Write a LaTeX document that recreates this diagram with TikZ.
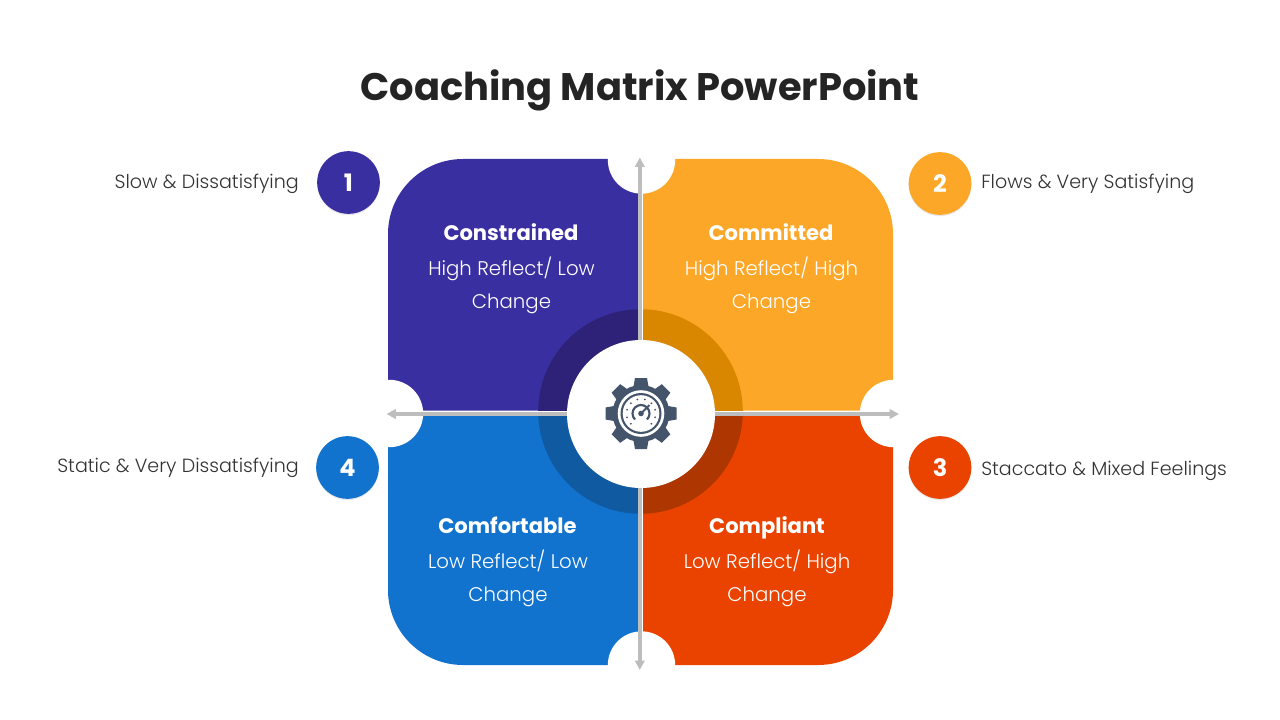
\documentclass[tikz,border=0pt]{standalone}
\usepackage{fontspec}
\setmainfont{Poppins}
\newfontfamily\lightfont{Poppins Light}
\usetikzlibrary{arrows.meta,shadows}
\definecolor{cPurple}{HTML}{3A2FA1}
\definecolor{cOrange}{HTML}{FCA727}
\definecolor{cRed}{HTML}{EA4300}
\definecolor{cBlue}{HTML}{1273CE}
\definecolor{cPurpleD}{HTML}{2E2278}
\definecolor{cOrangeD}{HTML}{D98600}
\definecolor{cRedD}{HTML}{AE3600}
\definecolor{cBlueD}{HTML}{0F5AA0}
\definecolor{cGear}{HTML}{44546A}
\definecolor{cAxis}{HTML}{BDBDBD}
\begin{document}
\begin{tikzpicture}[x=0.75pt,y=-0.75pt]
\tikzset{title/.style = {font=\fontsize{28.8}{34}\selectfont\bfseries,text=black!86}}
\tikzset{head/.style = {font=\fontsize{15.8}{20}\selectfont\bfseries,text=white,text height=11.5pt,text depth=0pt}}
\tikzset{body/.style = {font=\lightfont\fontsize{14.8}{24.75}\selectfont,text=white,align=center}}
\tikzset{side/.style = {font=\lightfont\fontsize{14.3}{18}\selectfont,text=black!80}}
\tikzset{bubble/.style = {shape=circle,fill=#1,text=white,minimum size=47pt,inner sep=0pt,font=\fontsize{18}{22}\selectfont\bfseries,drop shadow={opacity=0.18,shadow xshift=0pt,shadow yshift=-1pt}}}
\tikzset{notch/.style = {shape=circle,fill=white,minimum size=50.5pt,inner sep=0pt}}
\tikzset{axis/.style = {draw=cAxis,line width=2.6pt,{Triangle[length=7pt,width=7pt]}-{Triangle[length=7pt,width=7pt]}}}
\tikzset{gap/.style = {draw=white,line width=3.9pt}}
\useasboundingbox (0,0) rectangle (1280,720);
% quadrants
\fill[cPurple] (638,159) -- (638,410.5) -- (388,410.5) -- (388,234) arc[start angle=180,end angle=270,radius=75] -- cycle;
\fill[cOrange] (893,410.5) -- (643,410.5) -- (643,159) -- (818,159) arc[start angle=270,end angle=360,radius=75] -- cycle;
\fill[cRed] (643,665) -- (643,416) -- (893,416) -- (893,590) arc[start angle=0,end angle=90,radius=75] -- cycle;
\fill[cBlue] (388,416) -- (638,416) -- (638,665) -- (463,665) arc[start angle=90,end angle=180,radius=75] -- cycle;
% ring
\coordinate (ctr) at (640.5,411.5);
\fill[cPurpleD] (ctr) -- ++(180:102.3) arc[start angle=180,end angle=270,radius=102.3] -- cycle;
\fill[cOrangeD] (ctr) -- ++(270:102.3) arc[start angle=270,end angle=360,radius=102.3] -- cycle;
\fill[cRedD] (ctr) -- ++(0:102.3) arc[start angle=0,end angle=90,radius=102.3] -- cycle;
\fill[cBlueD] (ctr) -- ++(90:102.3) arc[start angle=90,end angle=180,radius=102.3] -- cycle;
% notches
\node[notch] (ntop) at (641.5,160) {};
\node[notch] (nbot) at (641.5,665) {};
\node[notch] (nlft) at (389.5,413.5) {};
\node[notch] (nrgt) at (893.5,413.5) {};
% axes
\coordinate (atop) at (639.8,157.5);
\coordinate (abot) at (639.8,670);
\coordinate (alft) at (386.5,414);
\coordinate (argt) at (899,414);
\draw[gap] (640.5,159) to (640.5,665);
\draw[gap] (388,413.2) to (893,413.2);
\draw[axis] (atop) to (abot);
\draw[axis] (alft) to (argt);
% hub and gear
\node[shape=circle,fill=white,minimum size=111pt,inner sep=0pt] (hub) at (641,414) {};
\coordinate (g) at (641,413.5);
\fill[cGear] (g) circle (28.5);
\foreach \a in {0,45,...,315}
  \fill[cGear,shift={(g)},rotate=\a] (24,-8) -- (35.5,-6) -- (35.5,6) -- (24,8) -- cycle;
\fill[white] (g) circle (23.3);
\fill[cGear] (g) circle (20.5);
\fill[white] (g) circle (18.3);
\foreach \a in {135,165,...,405}
  \fill[cGear] (g) ++(\a:14.5) circle (1);
\draw[cGear,line width=1.6pt] (g) ++(135:8.5) arc[start angle=135,end angle=405,radius=8.5];
\fill[cGear] (g) circle (2.8);
\draw[cGear,line width=1.5pt] (g) -- ++(-45:12);
% quadrant texts
\node[head] (con) at (511,233) {Constrained};
\node[body] (conb) at (511.5,285.5) {High Reflect/ Low\\Change};
\node[head] (com) at (771,233) {Committed};
\node[body] (comb) at (771.5,285.5) {High Reflect/ High\\Change};
\node[head] (cft) at (507.5,526) {Comfortable};
\node[body] (cftb) at (508,578.5) {Low Reflect/ Low\\Change};
\node[head] (cpl) at (767,526) {Compliant};
\node[body] (cplb) at (767,578.5) {Low Reflect/ High\\Change};
% bubbles
\node[bubble=cPurple] (b1) at (348.5,182.5) {1};
\node[bubble=cOrange] (b2) at (940,183.5) {2};
\node[bubble=cRed] (b3) at (940,467.5) {3};
\node[bubble=cBlue] (b4) at (347.5,467.5) {4};
% side labels
\node[side,anchor=east,inner sep=0pt] (s1) at (299,184) {Slow \& Dissatisfying};
\node[side,anchor=west,inner sep=0pt] (s2) at (981,184) {Flows \& Very Satisfying};
\node[side,anchor=west,inner sep=0pt] (s3) at (981,471) {Staccato \& Mixed Feelings};
\node[side,anchor=east,inner sep=0pt] (s4) at (299,468) {Static \& Very Dissatisfying};
% title
\node[title] (ttl) at (640,90.5) {Coaching Matrix PowerPoint};
\end{tikzpicture}
\end{document}
